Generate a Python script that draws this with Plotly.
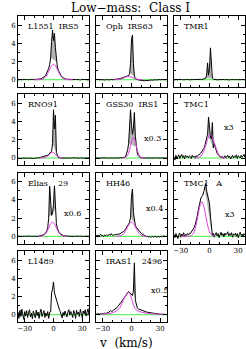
import plotly.graph_objects as go

# ---------------- data ----------------
VEL = list(range(-37, 38))  # channel velocities (km/s)

NAMES = ["L1551  IRS5", "Oph  IRS63", "TMR1", "RNO91", "GSS30  IRS1", "TMC1",
         "Elias    29", "HH46", "TMC1   A", "L1489", "IRAS1    2496"]
SCALE_TXT = ["", "", "", "", "x0.3", "x3", "x0.6", "x0.4", "x3", "", "x0.5"]
SCALE_X = [0, 0, 0, 0, 22, 20.5, 19.7, 23.6, 21.3, 0, 29.6]
SCALE_Y = [0, 0, 0, 0, 2.1, 3.3, 2.55, 3.1, 2.4, 0, 2.65]

SPEC_L1551 = [0.02, -0.03, 0.04, 0.00, -0.02, 0.03, 0.01, -0.04, 0.02, 0.03, -0.02, 0.00, 0.04, -0.01, 0.02,
              0.03, 0.00, 0.04, 0.02, 0.05, 0.03, 0.06, 0.08, 0.07, 0.10, 0.15, 0.20, 0.28, 0.38, 0.50,
              0.70, 0.95, 1.25, 1.65, 2.40, 4.20, 5.45, 4.30, 5.10, 3.50, 2.00, 1.40, 1.05, 0.80, 0.60,
              0.42, 0.30, 0.20, 0.14, 0.10, 0.06, 0.05, 0.03, 0.04, 0.01, 0.03, -0.02, 0.02, 0.00, -0.03,
              0.02, 0.03, -0.01, 0.02, 0.00, -0.03, 0.03, 0.01, -0.02, 0.02, 0.04, -0.01, 0.01, -0.02, 0.02]
SPEC_OPH = [0.03, -0.02, 0.01, 0.04, -0.03, 0.02, 0.00, -0.02, 0.03, 0.01, -0.03, 0.02, 0.04, 0.00, -0.02,
            0.02, 0.03, 0.00, 0.04, 0.02, 0.05, 0.06, 0.05, 0.08, 0.10, 0.12, 0.15, 0.18, 0.20, 0.24,
            0.28, 0.32, 0.36, 0.40, 0.45, 0.70, 1.80, 4.40, 4.90, 1.80, 0.40, 0.12, 0.05, 0.02, -0.02,
            -0.04, -0.06, -0.08, -0.05, -0.10, -0.07, -0.12, -0.08, -0.10, -0.06, -0.09, -0.05, -0.08, -0.03, -0.05,
            -0.02, -0.04, 0.00, -0.03, 0.01, -0.02, 0.02, 0.00, -0.03, 0.02, 0.01, -0.02, 0.03, 0.00, 0.02]
SPEC_TMR1 = [0.02, -0.03, 0.03, 0.00, -0.02, 0.04, 0.01, -0.03, 0.02, 0.00, 0.03, -0.02, 0.01, 0.03, -0.01,
             0.02, 0.00, -0.02, 0.03, 0.01, 0.02, -0.01, 0.03, 0.02, 0.04, 0.01, 0.03, 0.02, 0.05, 0.03,
             0.05, 0.06, 0.08, 0.15, 0.50, 1.85, 0.50, 1.20, 3.50, 0.80, 0.15, 0.06, 0.03, 0.02, 0.04,
             0.01, -0.02, 0.02, 0.00, -0.03, 0.01, 0.03, -0.02, 0.00, 0.02, -0.01, 0.03, 0.00, -0.02, 0.01,
             0.03, -0.01, 0.02, 0.00, -0.03, 0.02, 0.01, -0.02, 0.03, 0.00, 0.02, -0.03, 0.01, 0.02, -0.01]
SPEC_RNO91 = [-0.02, -0.04, 0.01, -0.03, -0.05, 0.00, -0.03, -0.06, -0.02, -0.04, 0.00, -0.05, -0.03, -0.01, -0.04,
              -0.02, -0.05, -0.03, 0.00, -0.02, 0.01, -0.01, 0.02, 0.03, 0.05, 0.08, 0.10, 0.13, 0.16, 0.20,
              0.25, 0.32, 0.40, 0.50, 0.60, 0.75, 1.60, 5.30, 3.20, 4.70, 0.60, 0.18, 0.05, 0.02, 0.00,
              -0.02, 0.01, -0.03, 0.00, -0.02, 0.02, -0.01, 0.00, -0.03, 0.01, -0.02, 0.00, 0.02, -0.01, -0.03,
              0.00, 0.02, -0.02, 0.01, -0.03, 0.00, 0.02, -0.01, 0.01, -0.02, 0.00, 0.02, -0.01, 0.01, 0.00]
SPEC_GSS30 = [0.01, -0.02, 0.02, 0.00, -0.03, 0.01, 0.02, -0.02, 0.00, 0.03, -0.01, 0.01, -0.02, 0.02, 0.00,
              -0.01, 0.02, 0.00, -0.02, 0.01, 0.03, 0.00, 0.02, -0.01, 0.02, 0.03, 0.01, 0.04, 0.05, 0.06,
              0.08, 0.20, 0.45, 0.90, 1.60, 3.20, 5.30, 3.60, 2.60, 3.30, 5.00, 2.40, 1.20, 0.55, 0.25,
              0.10, 0.05, 0.02, 0.00, -0.02, 0.01, -0.01, 0.00, 0.02, -0.02, 0.01, 0.00, -0.01, 0.02, 0.00,
              -0.02, 0.01, 0.00, 0.02, -0.01, 0.00, 0.01, -0.02, 0.02, 0.00, -0.01, 0.01, 0.00, -0.02, 0.01]
SPEC_TMC1 = [0.10, -0.20, 0.30, -0.10, 0.15, 0.35, -0.05, 0.20, 0.40, 0.05, 0.25, -0.10, 0.30, 0.10, 0.20,
             0.00, 0.25, 0.15, -0.05, 0.30, 0.10, 0.20, 0.05, 0.25, 0.15, 0.30, 0.35, 0.45, 0.55, 0.70,
             0.85, 1.05, 1.30, 1.65, 2.05, 2.60, 4.50, 2.80, 2.30, 2.10, 3.90, 1.10, 1.50, 1.20, 0.80,
             0.50, 0.35, 0.20, 0.15, 0.05, 0.20, -0.05, 0.10, 0.25, 0.00, 0.15, 0.30, 0.05, 0.20, -0.10,
             0.15, 0.30, 0.00, 0.20, 0.10, 0.35, -0.05, 0.25, 0.15, 0.00, 0.30, 0.10, 0.20, 0.40, 0.05]
SPEC_ELIAS = [0.01, -0.02, 0.02, 0.00, -0.01, 0.02, -0.02, 0.01, 0.00, 0.02, -0.01, 0.01, 0.03, 0.00, -0.02,
              0.02, 0.00, 0.01, -0.01, 0.03, 0.02, 0.00, 0.03, 0.05, 0.06, 0.08, 0.12, 0.18, 0.26, 0.38,
              0.60, 0.95, 2.00, 5.50, 3.60, 2.30, 2.50, 3.50, 5.55, 3.00, 1.40, 0.90, 0.60, 0.40, 0.28,
              0.18, 0.12, 0.08, 0.05, 0.03, 0.02, 0.00, 0.02, -0.01, 0.01, 0.00, -0.02, 0.01, 0.00, -0.01,
              0.02, 0.00, -0.02, 0.01, 0.00, 0.02, -0.01, 0.01, -0.02, 0.00, 0.02, -0.01, 0.00, 0.01, -0.01]
SPEC_HH46 = [0.10, 0.05, 0.15, 0.00, 0.12, 0.20, 0.05, 0.10, -0.02, 0.15, 0.08, 0.18, 0.05, 0.12, 0.22,
             0.10, 0.30, 0.15, 0.08, 0.20, 0.12, 0.25, 0.18, 0.22, 0.30, 0.28, 0.35, 0.40, 0.50, 0.55,
             0.65, 0.80, 0.95, 1.15, 1.35, 1.55, 2.10, 4.40, 5.20, 2.60, 1.45, 1.20, 1.00, 0.85, 0.70,
             0.55, 0.45, 0.35, 0.25, 0.18, 0.10, 0.05, 0.00, -0.05, 0.02, -0.08, -0.03, -0.10, -0.05, 0.00,
             -0.08, -0.04, 0.02, -0.10, -0.05, 0.00, -0.08, -0.02, 0.03, -0.06, 0.00, 0.05, -0.03, 0.02, -0.05]
SPEC_TMC1A = [0.20, -0.15, 0.30, 0.05, -0.25, 0.15, 0.35, -0.10, 0.25, 0.00, 0.40, -0.05, 0.20, 0.10, 0.30,
              0.15, 0.35, 0.30, 0.45, 0.55, 0.75, 0.95, 1.25, 1.60, 2.10, 2.70, 3.30, 3.80, 4.20, 4.40,
              4.50, 4.90, 5.30, 5.80, 5.00, 4.50, 3.80, 3.60, 2.20, 0.50, 0.10, 0.30, -0.10, 0.25, 0.40,
              0.05, 0.30, -0.15, 0.20, 0.45, 0.10, 0.30, -0.05, 0.35, 0.15, 0.25, 0.50, 0.05, 0.30, 0.10,
              0.40, -0.10, 0.25, 0.15, 0.35, 0.00, 0.30, -0.15, 0.20, 0.45, 0.10, 0.25, -0.05, 0.30, 0.15]
SPEC_L1489 = [0.30, -0.40, 0.50, -0.20, 0.60, 0.10, -0.50, 0.35, -0.15, 0.45, -0.30, 0.20, 0.55, -0.25, 0.15,
              -0.45, 0.40, 0.05, -0.35, 0.50, -0.10, 0.30, -0.40, 0.25, 0.60, -0.20, 0.10, 0.45, -0.30, 0.20,
              -0.15, 0.35, -0.40, 0.25, 0.30, 2.40, 2.80, 3.60, 2.40, 2.00, 1.60, 1.20, 0.90, 0.60, 0.35,
              0.10, -0.35, 0.25, -0.10, 0.40, 0.15, -0.25, 0.30, 0.55, -0.05, 0.35, 0.10, -0.30, 0.45, 0.20,
              -0.40, 0.50, 0.05, 0.30, -0.20, 0.60, 0.15, -0.35, 0.40, 0.10, 0.55, -0.15, 0.30, 0.65, -0.05]
SPEC_IRAS = [0.05, 0.08, 0.03, 0.10, 0.06, 0.12, 0.08, 0.15, 0.10, 0.18, 0.12, 0.20, 0.25, 0.22, 0.30,
             0.45, 0.40, 0.35, 0.50, 0.55, 0.62, 0.70, 0.80, 0.92, 1.05, 1.20, 1.35, 1.50, 1.65, 1.80,
             1.95, 2.10, 2.30, 2.50, 2.55, 2.45, 2.30, 2.20, 2.10, 2.60, 5.70, 1.60, 0.90, 0.75, 0.65,
             0.60, 0.55, 0.50, 0.45, 0.42, 0.38, 0.35, 0.32, 0.28, 0.26, 0.24, 0.20, 0.18, 0.15, 0.14,
             0.12, 0.10, 0.12, 0.08, 0.09, 0.06, 0.07, 0.05, 0.06, 0.04, 0.05, 0.03, 0.04, 0.02, 0.03]

SPECTRA = [SPEC_L1551, SPEC_OPH, SPEC_TMR1, SPEC_RNO91, SPEC_GSS30, SPEC_TMC1,
           SPEC_ELIAS, SPEC_HH46, SPEC_TMC1A, SPEC_L1489, SPEC_IRAS]

# velocity range of the narrow (grey-shaded) component in each panel
CORE_V = [(-3, 3), (-2, 3), (-4, 3), (-1, 3), (-3, 5), (-2, 4),
          (-5, 2), (-1, 3), (-5, 2), None, (2, 4)]

# fitted broad (magenta) components
MAG_V_L1551 = [-20, -16, -12, -10, -8, -6, -4, -2, 0, 2, 4, 6, 8, 10, 12, 16, 20]
MAG_L1551 = [0.00, 0.00, 0.05, 0.14, 0.35, 0.70, 1.14, 1.54, 1.70, 1.54, 1.14, 0.70, 0.35, 0.14, 0.05, 0.00, 0.00]
MAG_V_OPH = [-18, -15, -12, -10, -8, -6, -4, -2, 0, 2, 4, 6, 9, 12]
MAG_OPH = [0.00, 0.01, 0.05, 0.11, 0.20, 0.30, 0.37, 0.37, 0.30, 0.20, 0.11, 0.05, 0.01, 0.00]
MAG_V_RNO91 = [-14, -12, -10, -8, -6, -4, -2, -1, 0, 2, 4, 6, 8, 10]
MAG_RNO91 = [0.00, 0.01, 0.04, 0.11, 0.22, 0.41, 0.58, 0.60, 0.58, 0.41, 0.22, 0.11, 0.04, 0.01]
MAG_V_GSS30 = [-10, -8, -6, -4, -2, 0, 2, 4, 6, 8, 10, 12, 14]
MAG_GSS30 = [0.00, 0.01, 0.06, 0.30, 0.92, 1.80, 2.25, 1.80, 0.92, 0.30, 0.06, 0.01, 0.00]
MAG_V_TMC1 = [-16, -14, -12, -10, -8, -6, -4, -2, 0, 1, 2, 4, 6, 8, 10, 12, 14, 16, 18]
MAG_TMC1 = [0.00, 0.01, 0.04, 0.13, 0.34, 0.76, 1.37, 2.04, 2.49, 2.55, 2.49, 2.04, 1.37, 0.76, 0.34, 0.13, 0.04, 0.01, 0.00]
MAG_V_ELIAS = [-16, -14, -12, -10, -8, -6, -4, -2, -1, 0, 2, 4, 6, 8, 10, 12, 14]
MAG_ELIAS = [0.00, 0.00, 0.02, 0.12, 0.33, 0.71, 1.17, 1.50, 1.55, 1.50, 1.17, 0.71, 0.33, 0.12, 0.04, 0.01, 0.00]
MAG_V_HH46 = [-16, -14, -12, -10, -8, -6, -4, -2, 0, 2, 4, 6, 8, 10, 12, 14, 16]
MAG_HH46 = [0.00, 0.01, 0.04, 0.13, 0.32, 0.64, 1.04, 1.40, 1.55, 1.40, 1.04, 0.64, 0.32, 0.13, 0.04, 0.01, 0.00]
MAG_V_TMC1A = [-30, -24, -20, -18, -16, -14, -12, -10, -8, -6, -4, -2, 0, 2, 4, 6]
MAG_TMC1A = [0.00, 0.01, 0.04, 0.17, 0.51, 1.23, 2.30, 3.33, 3.80, 3.33, 2.30, 1.23, 0.51, 0.17, 0.04, 0.00]
MAG_V_IRAS = [-36, -30, -25, -20, -16, -12, -10, -8, -6, -4, -2, 0, 2, 4, 6, 8, 12, 16, 20, 25, 30, 36]
MAG_IRAS = [0.02, 0.05, 0.10, 0.20, 0.40, 0.80, 1.25, 1.70, 2.10, 2.45, 2.35, 1.80, 1.10, 0.65, 0.45, 0.35,
            0.25, 0.17, 0.12, 0.08, 0.05, 0.03]

MAGS = [(MAG_V_L1551, MAG_L1551), (MAG_V_OPH, MAG_OPH), None, (MAG_V_RNO91, MAG_RNO91),
        (MAG_V_GSS30, MAG_GSS30), (MAG_V_TMC1, MAG_TMC1), (MAG_V_ELIAS, MAG_ELIAS),
        (MAG_V_HH46, MAG_HH46), (MAG_V_TMC1A, MAG_TMC1A), None, (MAG_V_IRAS, MAG_IRAS)]

Y_TICKS = [0, 2, 4, 6]
Y_MINOR = [1, 3, 5]
X_TICKS = [-30, 0, 30]
X_MINOR = [-20, -10, 10, 20]

# ---------------- layout geometry (pixels) ----------------
W, H = 246, 349
ML, MR, MT, MB = 18, 1, 16, 27
PW, PH = W - ML - MR, H - MT - MB
COL_LEFT = [18, 96, 174]
COL_W = 71
ROW_TOP = [16, 94.3, 172.6, 251]
ROW_H = 71


def clamp(v):
    return min(1.0, max(0.0, v))


SERIF = "DejaVu Serif"
fig = go.Figure()

for i, name in enumerate(NAMES):
    r, c = divmod(i, 3)
    n = i + 1
    xa = "x" if n == 1 else f"x{n}"
    ya = "y" if n == 1 else f"y{n}"
    spec = SPECTRA[i]

    # baseline
    fig.add_trace(go.Scatter(x=[VEL[0], VEL[-1]], y=[0, 0], mode="lines",
                             line=dict(color="#3ef03e", width=1), xaxis=xa, yaxis=ya,
                             showlegend=False, hoverinfo="skip"))
    # grey shaded narrow component
    if CORE_V[i] is not None:
        lo, hi = CORE_V[i]
        cx = [v for v in VEL if lo <= v <= hi]
        cy = [s for v, s in zip(VEL, spec) if lo <= v <= hi]
        fig.add_trace(go.Scatter(x=cx, y=cy, mode="lines", fill="toself",
                                 fillcolor="#b4b4b4", line=dict(width=0),
                                 xaxis=xa, yaxis=ya, showlegend=False, hoverinfo="skip"))
    # spectrum
    fig.add_trace(go.Scatter(x=VEL, y=spec, mode="lines",
                             line=dict(color="black", width=1), xaxis=xa, yaxis=ya,
                             showlegend=False))
    # broad component fit
    if MAGS[i] is not None:
        mv, my = MAGS[i]
        fig.add_trace(go.Scatter(x=mv, y=my, mode="lines", line_shape="spline",
                                 line=dict(color="#e040e0", width=1), xaxis=xa, yaxis=ya,
                                 showlegend=False))

    x0 = clamp((COL_LEFT[c] - ML) / PW)
    x1 = clamp((COL_LEFT[c] + COL_W - ML) / PW)
    y1 = clamp(1 - (ROW_TOP[r] - MT) / PH)
    y0 = clamp(1 - (ROW_TOP[r] + ROW_H - MT) / PH)

    show_x = i in (8, 9, 10)
    show_y = c == 0
    xkey = "xaxis" if n == 1 else f"xaxis{n}"
    ykey = "yaxis" if n == 1 else f"yaxis{n}"
    fig.update_layout({
        xkey: dict(domain=[x0, x1], anchor=ya, range=[-37, 37], showgrid=False, zeroline=False,
                   showline=True, linecolor="black", linewidth=1, mirror="ticks",
                   ticks="inside", ticklen=4, tickcolor="black", tickwidth=1,
                   tickvals=X_TICKS, showticklabels=show_x,
                   tickfont=dict(family=SERIF, size=7, color="black"),
                   minor=dict(tickvals=X_MINOR, ticks="inside", ticklen=2, tickcolor="black")),
        ykey: dict(domain=[y0, y1], anchor=xa, range=[-0.8, 7.0], showgrid=False, zeroline=False,
                   showline=True, linecolor="black", linewidth=1, mirror="ticks",
                   ticks="inside", ticklen=4, tickcolor="black", tickwidth=1,
                   tickvals=Y_TICKS, showticklabels=show_y,
                   tickfont=dict(family=SERIF, size=7, color="black"),
                   minor=dict(tickvals=Y_MINOR, ticks="inside", ticklen=2, tickcolor="black")),
    })

    dom = "x domain" if n == 1 else f"x{n} domain"
    ydom = "y domain" if n == 1 else f"y{n} domain"
    fig.add_annotation(text=name, xref=dom, yref=ydom, x=0.11, y=0.85,
                       xanchor="left", yanchor="middle", showarrow=False,
                       font=dict(family=SERIF, size=8, color="black"))
    if SCALE_TXT[i]:
        fig.add_annotation(text=SCALE_TXT[i], xref=xa, yref=ya, x=SCALE_X[i], y=SCALE_Y[i],
                           xanchor="center", yanchor="middle", showarrow=False,
                           font=dict(family=SERIF, size=8, color="black"))

fig.add_annotation(text="Low\u2212mass:  Class I", xref="paper", yref="paper",
                   x=(130 - ML) / PW, y=1 + (MT - 7.5) / PH, xanchor="center", yanchor="middle",
                   showarrow=False, font=dict(family=SERIF, size=12, color="black"))
fig.add_annotation(text="v  (km/s)", xref="paper", yref="paper",
                   x=(126 - ML) / PW, y=1 - (343 - MT) / PH, xanchor="center", yanchor="middle",
                   showarrow=False, font=dict(family=SERIF, size=12, color="black"))

fig.update_layout(width=W, height=H, margin=dict(l=ML, r=MR, t=MT, b=MB, pad=0),
                  paper_bgcolor="white", plot_bgcolor="white", showlegend=False)

fig.write_html("out.html", config={"displayModeBar": False},
               post_script="document.body.style.margin='0px';")
